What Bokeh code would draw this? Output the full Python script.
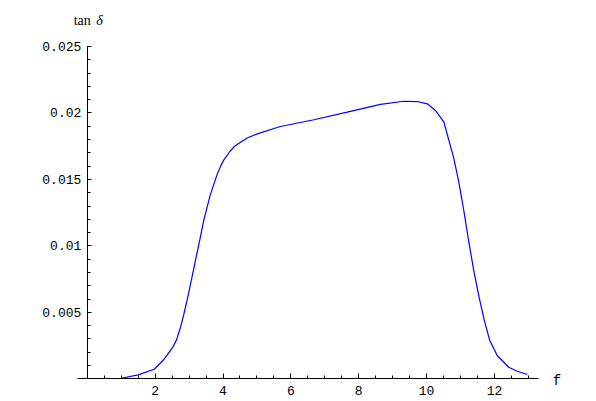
from bokeh.plotting import figure
from bokeh.models import FixedTicker, PrintfTickFormatter, Label, Range1d
from bokeh.embed import file_html
from bokeh.resources import INLINE

# data
f_vals = [1.0, 1.5, 1.97, 2.25, 2.52, 2.63, 2.75, 2.84, 2.94, 3.04, 3.14, 3.22, 3.32,
          3.43, 3.62, 3.83, 3.93, 4.02, 4.20, 4.35, 4.71, 5.01, 5.69, 6.68, 7.66, 8.64,
          9.33, 9.72, 10.02, 10.26, 10.51, 10.65, 10.80, 10.95, 11.10, 11.25, 11.40,
          11.55, 11.70, 11.86, 12.08, 12.42, 12.67, 12.97]
tan_delta = [0.00004, 0.00030, 0.00072, 0.00143, 0.00238, 0.00293, 0.00390, 0.00480,
             0.00590, 0.00710, 0.00830, 0.00930, 0.01050, 0.01190, 0.01380, 0.01540,
             0.01600, 0.01645, 0.01710, 0.01752, 0.01812, 0.01843, 0.01898, 0.01949,
             0.02006, 0.02064, 0.02088, 0.02086, 0.02069, 0.02019, 0.01931, 0.01800,
             0.01660, 0.01480, 0.01260, 0.01020, 0.00800, 0.00610, 0.00440, 0.00290,
             0.00175, 0.00087, 0.00057, 0.00032]

x_major = [2, 4, 6, 8, 10, 12]
x_minor = [0.5 * i for i in range(1, 27)]
y_major = [0.005, 0.01, 0.015, 0.02, 0.025]
y_minor = [0.001 * i for i in range(1, 26)]

p = figure(width=596, height=401, output_backend="svg", toolbar_location=None,
           title=None, min_border=0,
           x_range=Range1d(-2.558, 15.007), y_range=Range1d(-0.001708, 0.028461))
p.outline_line_color = None
p.xgrid.visible = False
p.ygrid.visible = False
p.background_fill_color = "white"

p.line(f_vals, tan_delta, line_color="#0000ff", line_width=1.2)

mono = "Liberation Mono"

xa = p.xaxis[0]
xa.fixed_location = 0
xa.bounds = (-0.3, 13.3)
xa.ticker = FixedTicker(ticks=x_major, minor_ticks=x_minor)
xa.formatter = PrintfTickFormatter(format="%g")
xa.major_tick_in = 5
xa.major_tick_out = 0
xa.minor_tick_in = 3
xa.minor_tick_out = 0
xa.major_label_standoff = 7
xa.major_label_text_font = mono
xa.major_label_text_font_size = "13px"
xa.major_label_text_color = "black"
xa.axis_line_color = "black"
xa.major_tick_line_color = "black"
xa.minor_tick_line_color = "black"

ya = p.yaxis[0]
ya.fixed_location = 0
ya.bounds = (0, 0.025)
ya.ticker = FixedTicker(ticks=y_major, minor_ticks=y_minor)
ya.formatter = PrintfTickFormatter(format="%g")
ya.major_tick_in = 4
ya.major_tick_out = 0
ya.minor_tick_in = 3
ya.minor_tick_out = 0
ya.major_label_standoff = 6
ya.major_label_text_font = mono
ya.major_label_text_font_size = "13px"
ya.major_label_text_color = "black"
ya.axis_line_color = "black"
ya.major_tick_line_color = "black"
ya.minor_tick_line_color = "black"

p.add_layout(Label(x=-0.40, y=0.02694, text="tan", text_font="Liberation Serif",
                   text_font_size="14px", text_baseline="alphabetic", text_color="black"))
p.add_layout(Label(x=0.265, y=0.02694, text="δ", text_font="Liberation Serif",
                   text_font_style="italic", text_font_size="14px",
                   text_baseline="alphabetic", text_color="black"))
p.add_layout(Label(x=13.84, y=-0.00018, text="f", text_font=mono, text_font_size="14px",
                   text_align="center", text_baseline="alphabetic", text_color="black"))

open("out.html", "w").write(file_html(p, INLINE))
